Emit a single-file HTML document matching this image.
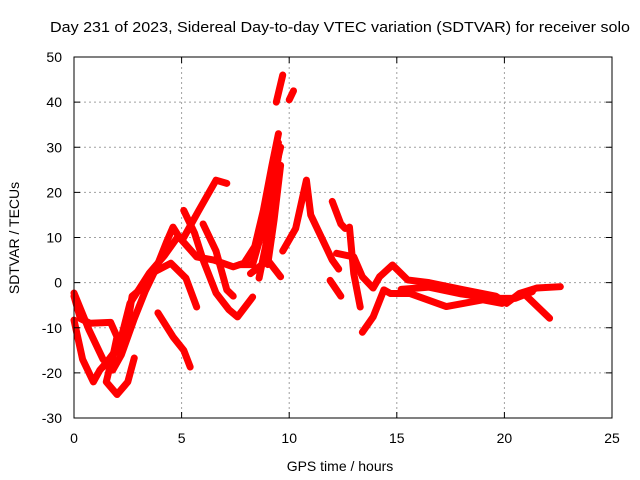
<!DOCTYPE html>
<html><head><meta charset="utf-8">
<style>
body{margin:0;background:#fff;}
svg{display:block;font-family:"Liberation Sans",sans-serif;}
</style></head>
<body>
<svg id="chart" width="640" height="480" viewBox="0 0 640 480">
<rect width="640" height="480" fill="#fff"/>
<g id="grid"></g>
<g id="tracks"></g>
<rect x="74" y="57" width="538" height="361" fill="none" stroke="#000" stroke-width="1"/>
<g id="ticks"></g>
<text x="50" y="32" font-size="15" textLength="580" lengthAdjust="spacingAndGlyphs">Day 231 of 2023, Sidereal Day-to-day VTEC variation (SDTVAR) for receiver solo</text>
<text x="340" y="471" text-anchor="middle" font-size="14">GPS time / hours</text>
<text x="19" y="238" text-anchor="middle" font-size="14" transform="rotate(-90 19 238)">SDTVAR / TECUs</text>
</svg>
<script>
const xTicks=[0,5,10,15,20,25];
const yTicks=[-30,-20,-10,0,10,20,30,40,50];
const trackA=[[0,-2.3],[0.7,-10.5],[1.35,-17],[1.8,-19.4],[2.2,-16],[2.8,-8],[3.3,-2],[3.8,3],[4.3,9],[4.6,12.3],[4.9,10],[5.7,5.7],[6.5,5],[7.4,3.5],[7.9,4.3],[8.4,8],[8.8,16],[9.2,26],[9.5,33]];
const trackB=[[0,-8.3],[0.4,-17],[0.9,-22],[1.2,-19.4],[2,-15],[2.5,-9],[2.7,-3],[3.2,-1],[3.6,2],[3.9,2.8],[4.5,4.3],[5.2,1],[5.7,-5.4]];
const trackC=[[0,-3],[0.3,-8],[0.75,-9],[1.7,-8.8],[2,-12],[1.8,-16.5],[1.6,-20],[1.5,-22],[2,-24.8],[2.5,-22],[2.8,-16.7]];
const trackD=[[1.35,-18.7],[2.1,-14],[2.6,-4.6],[3.5,2.1],[4.2,6],[4.8,10],[5.1,10],[5.8,16],[6.6,22.7],[7.1,22]];
const trackE=[[3.9,-6.7],[4.6,-12],[5.1,-15],[5.4,-18.7]];
const trackF=[[5.1,16],[5.6,11],[6,5],[6.6,-2.3],[7.2,-6],[7.6,-7.6],[8.3,-3.2]];
const trackG=[[6,13],[6.6,7],[7.1,-1.6],[7.4,-3]];
const trackH=[[7.7,4],[8.3,4],[8.9,14],[9.3,24],[9.6,30]];
const trackH2=[[8.0,5],[8.5,8],[8.9,18],[9.3,28],[9.5,31]];
const trackH3=[[8.6,1],[8.9,8],[9.2,18],[9.5,28]];
const trackH4=[[9.0,4],[9.3,14],[9.6,26]];
const trackI=[[8.2,2],[8.6,3.5],[9,5],[9.6,1.3]];
const trackJ=[[9.7,7],[10.3,12],[10.8,22.7],[11,15],[11.7,8],[12,5],[12.3,3]];
const trackK=[[12,18],[12.4,13],[12.6,12]];
const trackL=[[11.9,0.5],[12.4,-3]];
const trackM=[[12.2,6.5],[13,5.7],[13.4,1.3],[13.9,-1.2],[14.2,1.3],[14.8,3.9],[15.5,0.6],[16.5,0],[18.1,-1.6],[19.6,-3],[20.1,-4.6],[20.7,-2.4],[21.5,-1.2],[22.6,-0.9]];
const trackM2=[[15.2,-1.5],[16.5,-1],[18,-2.5],[19.5,-3.5],[20.5,-3.5],[21.3,-2]];
const trackN=[[13.4,-11],[13.9,-7.6],[14.4,-1.6],[14.7,-2.4],[15.6,-2.4],[17.3,-5.3],[19,-3.8],[19.9,-4.6],[20.9,-2.4],[22.1,-7.9]];
const trackO=[[12.8,12.3],[13,2],[13.3,-5.4]];
const trackP=[[9.4,40],[9.7,46]];
const trackQ=[[10,40.5],[10.2,42.5]];
const tracks=[trackA,trackB,trackC,trackD,trackE,trackF,trackG,trackH,trackH2,trackH3,trackH4,trackI,trackJ,trackK,trackL,trackM,trackM2,trackN,trackO,trackP,trackQ];
const NS="http://www.w3.org/2000/svg";
function xs(h){return 74+h*538/25;}
function ys(v){return 418-(v+30)*361/80;}
const grid=document.getElementById('grid'),ticks=document.getElementById('ticks'),tg=document.getElementById('tracks');
xTicks.forEach(t=>{
 const x=xs(t);
 if(t>0&&t<25){const l=document.createElementNS(NS,'line');
 
 
 l.setAttribute('x1',x);l.setAttribute('x2',x);l.setAttribute('y1',57);l.setAttribute('y2',418);
 l.setAttribute('stroke','#a0a0a0');l.setAttribute('stroke-dasharray','2,3');grid.appendChild(l);}
 const k=document.createElementNS(NS,'path');
 
 
 k.setAttribute('d',`M${x} 418v-6M${x} 57v6`);k.setAttribute('stroke','#000');ticks.appendChild(k);
 const tx=document.createElementNS(NS,'text');
 
 
 tx.setAttribute('x',x);tx.setAttribute('y',443);tx.setAttribute('text-anchor','middle');tx.setAttribute('font-size','14');
 tx.textContent=t;ticks.appendChild(tx);
});
yTicks.forEach(t=>{
 const y=ys(t);
 if(t>-30&&t<50){const l=document.createElementNS(NS,'line');
 
 
 l.setAttribute('x1',74);l.setAttribute('x2',612);l.setAttribute('y1',y);l.setAttribute('y2',y);
 l.setAttribute('stroke','#a0a0a0');l.setAttribute('stroke-dasharray','2,3');grid.appendChild(l);}
 const k=document.createElementNS(NS,'path');
 
 
 k.setAttribute('d',`M74 ${y}h6M612 ${y}h-6`);k.setAttribute('stroke','#000');ticks.appendChild(k);
 const tx=document.createElementNS(NS,'text');
 
 
 tx.setAttribute('x',62);tx.setAttribute('y',y+5);tx.setAttribute('text-anchor','end');tx.setAttribute('font-size','14');
 tx.textContent=t;ticks.appendChild(tx);
});
tracks.forEach(tr=>{
 const p=document.createElementNS(NS,'polyline');
 
 
 p.setAttribute('points',tr.map(d=>xs(d[0])+','+ys(d[1])).join(' '));
 p.setAttribute('fill','none');p.setAttribute('stroke','#ff0000');p.setAttribute('stroke-width','7');
 p.setAttribute('stroke-linejoin','round');p.setAttribute('stroke-linecap','round');
 tg.appendChild(p);
});
</script>
</body></html>
